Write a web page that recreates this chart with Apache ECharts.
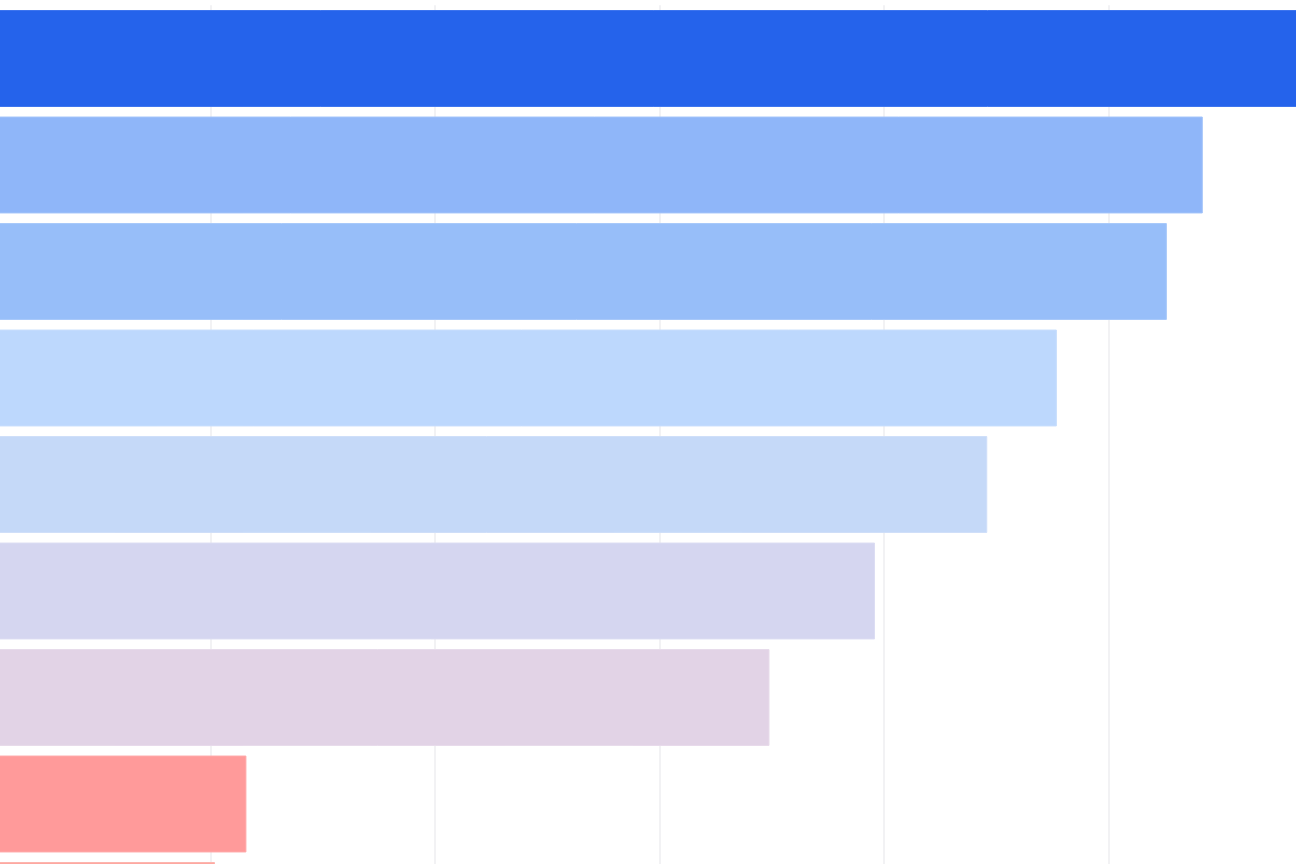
<!DOCTYPE html>
<html lang="en">
<head>
    <meta charset="UTF-8">
    <title>Bars</title>
    <style>
        html, body { margin: 0; padding: 0; background: #ffffff; overflow: hidden; }
        body { position: relative; width: 1296px; height: 864px; }
        /* the picture is a crop of a bigger chart, so the chart box hangs past the window */
        #main { position: absolute; left: -14.5px; top: 0; }
    </style>
</head>
<body>
<div id="main" style="height: 964px;width: 1347px"></div>
</body>
<script src="https://cdn.jsdelivr.net/npm/echarts@6/dist/echarts.min.js"></script>
<script>
    // values, top bar first
    var categories = ['A', 'B', 'C', 'D', 'E', 'F', 'G', 'H', 'I'];
    var values = [59.5, 54.2, 52.6, 47.7, 44.6, 39.6, 34.9, 11.6, 10.2];
    var barColors = ['#2563EB', '#8FB6F9', '#97BEF9', '#BDD8FD', '#C5D9F8', '#D5D6F0', '#E2D3E6', '#FF9A9A', '#FDA8A0'];
    var borderColors = ['#3B73EE', '#A2C3FA', '#A8C9FA', '#C8DEFD', '#CFDFF9', '#DCDDF3', '#E8DBEB', '#FFAAAA', '#FDB5AE'];

    var myChart = echarts.init(document.getElementById('main'));

    var data = values.map(function (v, i) {
        return {
            value: v,
            itemStyle: {
                color: barColors[i],
                borderColor: borderColors[i],
                borderWidth: 1
            }
        };
    });

    var option = {
        animation: false,
        grid: {
            left: 0,
            right: 0,
            top: 5.25,
            bottom: 0.25,
            containLabel: false
        },
        xAxis: {
            type: 'value',
            min: 0,
            max: 60,
            interval: 10,
            axisLabel: { show: false },
            axisLine: { show: false },
            axisTick: { show: false },
            splitLine: {
                show: true,
                lineStyle: { color: '#EEEEF0', width: 1.5 }
            }
        },
        yAxis: {
            type: 'category',
            inverse: true,
            data: categories,
            axisLabel: { show: false },
            axisLine: { show: false },
            axisTick: { show: false }
        },
        series: [{
            type: 'bar',
            data: data,
            barCategoryGap: '9%'
        }]
    };

    myChart.setOption(option);
</script>
</html>
